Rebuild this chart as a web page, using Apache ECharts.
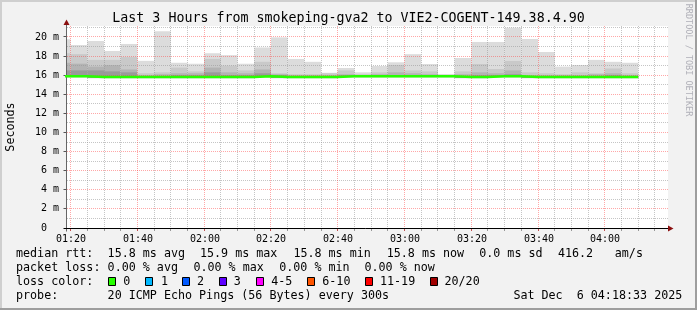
<!DOCTYPE html>
<html><head><meta charset="utf-8">
<script src="https://cdn.jsdelivr.net/npm/echarts@6/dist/echarts.min.js"></script>
<style>html,body{margin:0;padding:0;background:#f2f2f2}#c{width:697px;height:310px}</style>
</head><body><div id="c"></div>
<script>
// ---------- data ----------
const timeRange = ['01:18:55', '04:18:55'];
const slotMinutes = 5;
const slotStart = ['01:15','01:20','01:25','01:30','01:35','01:40','01:45','01:50','01:55','02:00','02:05','02:10','02:15','02:20','02:25','02:30','02:35','02:40','02:45','02:50','02:55','03:00','03:05','03:10','03:15','03:20','03:25','03:30','03:35','03:40','03:45','03:50','03:55','04:00','04:05'];
// smoke levels (ms): max ping, then inner quantile bands, and min ping
const smokeMax   = [19.76,19.16,19.58,18.53,19.27,17.5,20.6,17.3,17.2,18.3,18.1,17.2,18.9,19.96,17.7,17.4,16.25,16.75,16.3,16.96,17.35,18.2,17.17,16.1,17.8,19.48,19.48,20.97,19.79,18.43,16.9,17.07,17.6,17.4,17.3];
const smokeUpper = [18.3,18.2,17.6,17.6,17.9,16.2,16.3,16.8,16.4,17.7,17.0,16.5,17.4,16.2,16.1,16.1,16.2,16.5,16.1,16.3,17.07,16.5,16.4,16.05,16.4,17.17,16.65,17.49,16.3,16.2,16.1,16.3,16.2,16.7,16.2];
const smokeMid   = [17.3,17.2,16.9,17.05,16.6,16.0,16.1,16.2,16.2,16.8,16.3,16.2,16.6,16.1,16.0,16.0,16.0,16.1,16.0,16.1,16.3,16.2,16.1,16.0,16.1,16.3,16.2,16.5,16.0,16.0,16.0,16.0,16.1,16.2,16.0];
const smokeInner = [16.5,16.5,16.5,16.4,16.3,15.9,15.9,16.0,16.0,16.3,16.0,16.0,16.2,16.0,15.9,15.9,15.9,16.0,15.95,16.0,16.0,16.0,16.0,15.95,15.9,16.0,16.0,16.1,15.9,15.9,15.9,15.9,15.9,16.0,15.9];
const smokeMin   = [15.8,15.8,15.7,15.7,15.7,15.7,15.7,15.7,15.7,15.7,15.7,15.7,15.8,15.7,15.7,15.7,15.7,15.8,15.8,15.8,15.8,15.8,15.8,15.8,15.7,15.7,15.8,15.8,15.7,15.7,15.7,15.7,15.7,15.7,15.7];
const median     = [15.9,15.9,15.8,15.8,15.8,15.8,15.8,15.8,15.8,15.8,15.8,15.8,15.9,15.8,15.8,15.8,15.8,15.9,15.9,15.9,15.9,15.9,15.9,15.9,15.8,15.8,15.9,15.9,15.8,15.8,15.8,15.8,15.8,15.8,15.8];

const xTickLabels = ['01:20','01:40','02:00','02:20','02:40','03:00','03:20','03:40','04:00'];
const xMinorTicks = ['01:25','01:30','01:35','01:45','01:50','01:55','02:05','02:10','02:15','02:25','02:30','02:35','02:45','02:50','02:55','03:05','03:10','03:15','03:25','03:30','03:35','03:45','03:50','03:55','04:05','04:10','04:15'];
const yMajorTicks = [2,4,6,8,10,12,14,16,18,20];
const yMinorTicks = [1,3,5,7,9,11,13,15,17,19,21];
const yMax = 21.15;

const titleText = 'Last 3 Hours from smokeping-gva2 to VIE2-COGENT-149.38.4.90';
const statRows = [
  [[16,'median rtt:'],[107.6,'15.8 ms avg'],[200,'15.9 ms max'],[293.4,'15.8 ms min'],[386.7,'15.8 ms now'],[479.2,'0.0 ms sd'],[557.9,'416.2'],[614.8,'am/s']],
  [[16,'packet loss:'],[107.6,'0.00 % avg'],[193.4,'0.00 % max'],[279.2,'0.00 % min'],[364.5,'0.00 % now']],
  [[16,'loss color:']],
  [[16,'probe:'],[107.6,'20 ICMP Echo Pings (56 Bytes) every 300s'],[513.4,'Sat Dec  6 04:18:33 2025']]
];
const lossLabels = ['0','1','2','3','4-5','6-10','11-19','20/20'];
const lossColors = ['#26ff00','#00b8ff','#0059ff','#5e00ff','#ff00fe','#ff5500','#ff0000','#a10000'];
const lossBoxX = [108.5,145.7,182.3,219,256,307.3,365.4,430.3];
const lossTextX = [123.3,160.9,196.9,233.8,271.2,322.3,380,444.5];

// ---------- helpers ----------
function toMin(s){ const p = s.split(':').map(Number); return p[0]*60 + p[1] + (p[2]||0)/60; }
const xMin = toMin(timeRange[0]), xMax = toMin(timeRange[1]);
const MONO = 'DejaVu Sans Mono';
const shades = ['#dcdcdc','#c9c9c9','#b3b3b3','#9a9a9a'];

const smokeData = slotStart.map((t,i)=>[toMin(t), toMin(t)+slotMinutes, smokeMin[i], smokeMax[i], smokeUpper[i], smokeMid[i], smokeInner[i]]);
const medianData = slotStart.map((t,i)=>[toMin(t), median[i]]);
medianData.push([toMin(slotStart[slotStart.length-1]) + slotMinutes, median[median.length-1]]);

function renderSmoke(params, api){
  const cs = params.coordSys;
  const L = cs.x, R = cs.x + cs.width;
  const x0 = api.value(0), x1 = api.value(1), b = api.value(2);
  const children = [];
  for (let k=0;k<4;k++){
    const top = api.value(3+k);
    const p0 = api.coord([x0, top]), p1 = api.coord([x1, b]);
    const xa = Math.max(L, p0[0]), xb = Math.min(R, p1[0]);
    if (xb <= xa) continue;
    children.push({type:'rect', shape:{x:xa, y:p0[1], width:xb-xa, height:p1[1]-p0[1]}, style:{fill:shades[k]}});
  }
  return {type:'group', children};
}

const GRID_GRAY = 'rgba(150,150,150,0.55)';
const GRID_RED = 'rgba(255,60,60,0.45)';
function crisp(v){ return Math.floor(v) + 0.5; }
function renderDecor(params, api){
  const cs = params.coordSys;
  const L = cs.x, T = cs.y, R = cs.x + cs.width, B = cs.y + cs.height;
  const ch = [];
  const ln = (x1,y1,x2,y2,color,dash)=>({type:'line', shape:{x1,y1,x2,y2}, style:{stroke:color, lineWidth:1, lineDash:dash||null}});
  const axY = crisp(api.coord([xMin,0])[1]);
  const axX = crisp(L) - 1;
  yMinorTicks.forEach(v=>{ const y = crisp(api.coord([xMin,v])[1]); ch.push(ln(L, y, R, y, GRID_GRAY, [1,1])); });
  yMajorTicks.forEach(v=>{ const y = crisp(api.coord([xMin,v])[1]); ch.push(ln(L, y, R, y, GRID_RED, [1,1])); ch.push(ln(axX-3, y, axX, y, '#555')); });
  xMinorTicks.forEach(t=>{ const x = crisp(api.coord([toMin(t),0])[0]); ch.push(ln(x, T, x, axY, GRID_GRAY, [1,1])); ch.push(ln(x, axY, x, axY+2.5, '#999')); });
  xTickLabels.forEach(t=>{ const x = crisp(api.coord([toMin(t),0])[0]);
    ch.push(ln(x, T, x, axY, GRID_RED, [1,1])); ch.push(ln(x, axY, x, axY+2.5, '#c05050'));
    ch.push({type:'text', style:{text:t, x:x+0.5, y:axY+10.5, textAlign:'center', textVerticalAlign:'middle', font:'10px "'+MONO+'"', fill:'#000'}});
  });
  // axes
  ch.push(ln(axX, axY+3, axX, T-2, '#666'));
  ch.push(ln(axX-3, axY, R, axY, '#000'));
  // arrows
  ch.push({type:'polygon', shape:{points:[[R, axY-3], [R+5.5, axY], [R, axY+3]]}, style:{fill:'#8b1010'}});
  ch.push({type:'polygon', shape:{points:[[axX-3, T-1], [axX, T-6.5], [axX+3, T-1]]}, style:{fill:'#8b1010'}});
  return {type:'group', children:ch};
}

// ---------- graphic (texts / frame) ----------
const graphics = [];
graphics.push({type:'text', left:'center', top:12, style:{text:titleText, font:'13.3px "'+MONO+'"', fill:'#000'}});
graphics.push({type:'text', x:5, y:127, rotation:Math.PI/2, style:{text:'Seconds', font:'11.7px "'+MONO+'"', fill:'#000', textAlign:'center', textVerticalAlign:'top'}});
graphics.push({type:'text', x:693, y:60, rotation:-Math.PI/2, style:{text:'RRDTOOL / TOBI OETIKER', font:'8.5px "'+MONO+'"', fill:'#b0b0b8', textAlign:'center', textVerticalAlign:'top'}});
const rowY = [254, 268, 282, 296];
statRows.forEach((row, r)=>row.forEach(([x, s])=>graphics.push({type:'text', x, y:rowY[r], style:{text:s, font:'11.7px "'+MONO+'"', fill:'#000', textAlign:'left', textVerticalAlign:'middle'}})));
lossLabels.forEach((lab, i)=>{
  graphics.push({type:'rect', shape:{x:Math.floor(lossBoxX[i])+0.5, y:277.5, width:7, height:8}, style:{fill:lossColors[i], stroke:'#000', lineWidth:1}});
  graphics.push({type:'text', x:lossTextX[i], y:rowY[2], style:{text:lab, font:'11.7px "'+MONO+'"', fill:'#000', textAlign:'left', textVerticalAlign:'middle'}});
});
// border (3D frame)
graphics.push({type:'rect', shape:{x:0,y:0,width:697,height:2}, style:{fill:'#cfcfcf'}});
graphics.push({type:'rect', shape:{x:0,y:0,width:2,height:310}, style:{fill:'#cfcfcf'}});
graphics.push({type:'rect', shape:{x:695,y:0,width:2,height:310}, style:{fill:'#9e9e9e'}});
graphics.push({type:'rect', shape:{x:0,y:308,width:697,height:2}, style:{fill:'#9e9e9e'}});

const chart = echarts.init(document.getElementById('c'), null, {renderer:'canvas'});
chart.setOption({
  animation:false,
  backgroundColor:'#f2f2f2',
  grid:{left:67, top:26, width:601, height:202, show:true, backgroundColor:'#ffffff', borderWidth:0, containLabel:false},
  xAxis:{type:'value', min:xMin, max:xMax, show:false},
  yAxis:{type:'value', min:0, max:yMax, interval:2,
    axisLine:{show:false}, axisTick:{show:false}, splitLine:{show:false},
    axisLabel:{margin:8, fontFamily:MONO, fontSize:10, color:'#000',
      formatter:v=>(Math.abs(v-Math.round(v))<1e-6 && Math.round(v)%2===0 && v<=20) ? (v===0 ? '0  ' : v+' m') : ''}},
  graphic:graphics,
  series:[
    {type:'custom', name:'smoke', renderItem:renderSmoke, data:smokeData, z:2, encode:{x:[0,1], y:[2,3]}, silent:true},
    {type:'custom', name:'grid', renderItem:renderDecor, data:[[xMin,0]], z:3, encode:{x:0,y:1}, silent:true, clip:false},
    {type:'line', name:'median', data:medianData, step:'end', showSymbol:false, symbol:'none', lineStyle:{color:'#26ff00', width:2.5}, z:4, silent:true, clip:true}
  ]
});
</script></body></html>
